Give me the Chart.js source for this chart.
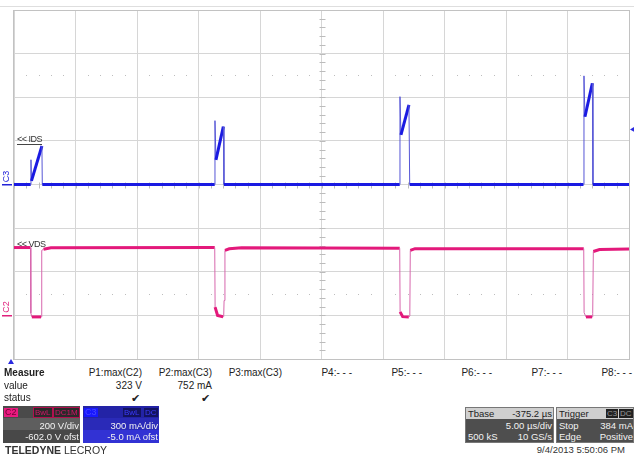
<!DOCTYPE html>
<html lang="en">
<head>
<meta charset="UTF-8">
<title>Scope capture - VDS / IDS</title>
<script src="https://cdn.jsdelivr.net/npm/chart.js@4.4.1/dist/chart.umd.min.js"></script>
<style>
    body { margin:0; width:634px; height:458px; background:#fff; position:relative; overflow:hidden;
           font-family:"Liberation Sans", Arial, sans-serif; }
    #scope { position:absolute; left:0; top:0; }
    .t { position:absolute; white-space:nowrap; font-size:10px; line-height:12px; color:#222; }
    .r { text-align:right; }
    .box { position:absolute; font-size:9.5px; line-height:11px; color:#f2f2f2; overflow:hidden; }
    .row { position:absolute; left:0; right:0; height:11px; }
    .row span { position:absolute; }
    .tag { position:absolute; top:2px; height:9px; line-height:9px; font-size:8px; padding:0 1px; }
    .mark { position:absolute; font-size:9px; line-height:10px; color:#333; border-bottom:1px solid #444; letter-spacing:-0.5px; }
</style>
</head>
<body>
<div style="position:absolute;left:0;top:6px;width:634px;height:1px;background:#dedede;"></div>
<canvas id="scope" width="634" height="362"></canvas>

<div class="mark" style="left:17px;top:134px;">&lt;&lt; IDS</div>
<div class="mark" style="left:17px;top:239px;border-bottom:none;">&lt;&lt; VDS</div>
<div style="position:absolute;left:8px;top:359px;width:0;height:0;border-left:3px solid transparent;border-right:3px solid transparent;border-bottom:5px solid #2a2ae0;"></div>

<div id="measure"></div>

<!-- channel C2 -->
<div class="box" style="left:3px;top:406px;width:77px;height:37px;background:linear-gradient(#4a4a4a 0 12px,#5e5e5e 12px 24px,#484848 24px);">
    <div class="tag" style="left:1px;width:12px;background:#ea1a80;color:#6d0434;font-size:9px;">C2</div>
    <div class="tag" style="left:30px;background:#2a2a2a;color:#d01466;border:1px solid #b0104f;top:1px;">BwL</div>
    <div class="tag" style="left:50px;background:#2a2a2a;color:#d01466;border:1px solid #b0104f;top:1px;">DC1M</div>
    <div class="row" style="top:14px;"><span style="right:1px;">200 V/div</span></div>
    <div class="row" style="top:25px;"><span style="right:1px;">-602.0 V ofst</span></div>
</div>
<!-- channel C3 -->
<div class="box" style="left:83px;top:406px;width:76px;height:37px;background:linear-gradient(#2323a6 0 12px,#2a2ab8 12px 24px,#3232d4 24px);">
    <div class="tag" style="left:1px;width:12px;background:#1818ff;color:#4848ff;font-size:9px;">C3</div>
    <div class="tag" style="left:40px;background:#131360;color:#3a3aff;">BwL</div>
    <div class="tag" style="left:61px;background:#131360;color:#3a3aff;">DC</div>
    <div class="row" style="top:14px;"><span style="right:1px;">300 mA/div</span></div>
    <div class="row" style="top:25px;"><span style="right:1px;">-5.0 mA ofst</span></div>
</div>
<!-- timebase -->
<div class="box" style="left:465px;top:407px;width:89px;height:36px;background:#4e4e4e;border:1px solid #777;box-sizing:border-box;">
    <div class="row" style="top:0;background:#cfcfcf;color:#222;"><span style="left:2px;">Tbase</span><span style="right:1px;">-375.2 &micro;s</span></div>
    <div class="row" style="top:12px;"><span style="right:1px;">5.00 &micro;s/div</span></div>
    <div class="row" style="top:23px;"><span style="left:2px;">500 kS</span><span style="right:1px;">10 GS/s</span></div>
</div>
<!-- trigger -->
<div class="box" style="left:556px;top:407px;width:78px;height:36px;background:#4e4e4e;border:1px solid #777;box-sizing:border-box;">
    <div class="row" style="top:0;background:#cfcfcf;color:#222;"><span style="left:2px;">Trigger</span></div>
    <div class="tag" style="left:49px;top:1px;background:#202020;color:#999;">C3</div>
    <div class="tag" style="left:62px;top:1px;background:#202020;color:#999;">DC</div>
    <div class="row" style="top:12px;"><span style="left:2px;">Stop</span><span style="right:0;">384 mA</span></div>
    <div class="row" style="top:23px;"><span style="left:2px;">Edge</span><span style="right:0;">Positive</span></div>
</div>

<div class="t" style="left:5px;top:444px;font-size:10.5px;color:#333;"><b>TELEDYNE</b> LECROY</div>
<div class="t r" style="right:9px;top:444px;font-size:9.5px;color:#333;">9/4/2013 5:50:06 PM</div>

<script>
// time axis: 10 divisions of 5 us
const TIME_PER_DIV = 5;
const X_DIVS = 10;
const Y_DIVS = 8;

// C3 (IDS): 300 mA/div, -5.0 mA offset
const C3_SCALE = 300;
const C3_OFST = -5;
const C3_T  = [0, 1.36, 1.38, 1.42, 2.27, 2.30, 16.32, 16.34, 16.42, 17.02, 17.07, 31.36, 31.38, 31.46, 32.11, 32.17, 46.30, 46.34, 46.42, 47.02, 47.07, 50];
const C3_MA = [5, 5, 175, 30, 270, 5, 5, 444, 174, 403, 5, 5, 609, 346, 552, 5, 5, 752, 471, 701, 5, 5];

// C2 (VDS): 200 V/div, -602.0 V offset
const C2_SCALE = 200;
const C2_OFST = -602;
const C2_T = [0, 1.34, 1.37, 1.45, 2.20, 2.24, 2.27, 2.40, 3.0,
              16.32, 16.35, 16.55, 17.00, 17.05, 17.08, 17.15, 17.50, 18.50,
              31.36, 31.39, 31.60, 32.10, 32.18, 32.22, 32.60,
              46.32, 46.35, 46.50, 47.00, 47.05, 47.10, 47.60, 50];
const C2_V = [313, 313, 12, -5, -5, 0, 300, 305, 312,
              313, 40, 2, -4, 0, 70, 300, 307, 312,
              310, 18, -4, -6, 0, 300, 308,
              308, 15, -5, -5, 10, 295, 304, 306];

// dotted reference levels (divisions) and trigger level
const REF_DIVS = [2.5, -2.5];
const TRIG_MA = 384;

const MEASURE_LABELS = ['P1:max(C2)', 'P2:max(C3)', 'P3:max(C3)', 'P4:- - -', 'P5:- - -', 'P6:- - -', 'P7:- - -', 'P8:- - -'];
const MEASURE_VALUES = ['323 V', '752 mA', '', '', '', '', '', ''];
const MEASURE_STATUS = [true, true, false, false, false, false, false, false];

// measure table
(function () {
    const host = document.getElementById('measure');
    let html = '<div class="t" style="left:4px;top:367px;"><b>Measure</b></div>' +
               '<div class="t" style="left:4px;top:380px;">value</div>' +
               '<div class="t" style="left:4px;top:392px;">status</div>';
    for (let i = 0; i < MEASURE_LABELS.length; i++) {
        const right = 634 - (142 + 70 * i);
        html += `<div class="t r" style="right:${right}px;top:367px;">${MEASURE_LABELS[i]}</div>`;
        if (MEASURE_VALUES[i]) html += `<div class="t r" style="right:${right}px;top:380px;">${MEASURE_VALUES[i]}</div>`;
        if (MEASURE_STATUS[i]) html += `<div class="t r" style="right:${right + 2}px;top:392px;font-size:11px;">&#10004;</div>`;
    }
    host.innerHTML = html;
})();

function pts(xs, ys) {
    return xs.map((x, i) => ({x: x, y: ys[i]}));
}

function edgeSegment(thin) {
    // fast edges come out thin and pale on the scope
    const steep = ctx => Math.abs(ctx.p1.x - ctx.p0.x) < 2;
    return {
        borderWidth: ctx => steep(ctx) ? 1 : undefined,
        borderColor: ctx => steep(ctx) ? thin : undefined
    };
}

const scopeDecor = {
    id: 'scopeDecor',
    beforeDatasetsDraw(chart) {
        const {ctx, chartArea: a, scales} = chart;
        const sx = scales.x, sd = scales.div;
        const cx = Math.round(sx.getPixelForValue(X_DIVS * TIME_PER_DIV / 2)) + 0.5;
        const cy = Math.round(sd.getPixelForValue(0)) + 0.5;
        ctx.save();
        // dotted reference lines
        ctx.fillStyle = '#bdbdbd';
        REF_DIVS.forEach(d => {
            const y = Math.round(sd.getPixelForValue(d));
            for (let t = 1; t < X_DIVS * TIME_PER_DIV; t++) {
                if (t % TIME_PER_DIV === 0) continue;
                ctx.fillRect(Math.round(sx.getPixelForValue(t)), y, 1, 1);
            }
        });
        // centre cross ticks
        ctx.strokeStyle = '#bcbcbc';
        ctx.lineWidth = 1;
        ctx.beginPath();
        for (let k = -Y_DIVS * 5 / 2; k <= Y_DIVS * 5 / 2; k++) {
            const y = Math.round(sd.getPixelForValue(k / 5)) + 0.5;
            ctx.moveTo(cx - 3, y); ctx.lineTo(cx + 3, y);
        }
        for (let t = 0; t <= X_DIVS * TIME_PER_DIV; t++) {
            const x = Math.round(sx.getPixelForValue(t)) + 0.5;
            ctx.moveTo(x, cy - 3); ctx.lineTo(x, cy + 3);
        }
        ctx.stroke();
        // frame
        ctx.strokeStyle = '#c2c2c2';
        ctx.strokeRect(Math.round(a.left) - 0.5, Math.round(a.top) + 0.5, Math.round(a.right - a.left) + 1, Math.round(a.bottom - a.top));
        ctx.restore();
    },
    afterDatasetsDraw(chart) {
        const {ctx, chartArea: a, scales} = chart;
        ctx.save();
        // trigger level arrow
        const ty = scales.yI.getPixelForValue(TRIG_MA);
        ctx.fillStyle = '#2a2ae0';
        ctx.beginPath();
        ctx.moveTo(a.right + 1, ty); ctx.lineTo(a.right + 6, ty - 3); ctx.lineTo(a.right + 6, ty + 3);
        ctx.fill();
        // channel ground markers
        [['C3', scales.yI.getPixelForValue(0), '#2323d8'], ['C2', scales.yV.getPixelForValue(0), '#e0207c']].forEach(m => {
            ctx.fillStyle = m[2];
            ctx.fillRect(2, Math.round(m[1]) - 1, 10, 1.5);
            ctx.save();
            ctx.translate(11, m[1] - 3);
            ctx.rotate(-Math.PI / 2);
            ctx.font = '9px "Liberation Sans", Arial';
            ctx.textBaseline = 'bottom';
            ctx.fillText(m[0], 0, 0);
            ctx.restore();
        });
        ctx.restore();
    }
};

const gridAxis = (min, max, step, pos) => ({
    type: 'linear', position: pos, min: min, max: max,
    ticks: {display: false, stepSize: step},
    grid: {color: '#d6d6d6', drawTicks: false, lineWidth: 1},
    border: {display: false},
    afterFit: s => { s.width = 0; s.height = 0; }
});

new Chart(document.getElementById('scope').getContext('2d'), {
    type: 'line',
    data: {
        datasets: [
            {
                label: 'C3 IDS',
                data: pts(C3_T, C3_MA),
                yAxisID: 'yI',
                borderColor: '#1a1ae2',
                borderWidth: 3,
                pointRadius: 0,
                tension: 0,
                segment: edgeSegment('#5656d6')
            },
            {
                label: 'C2 VDS',
                data: pts(C2_T, C2_V),
                yAxisID: 'yV',
                borderColor: '#e3197b',
                borderWidth: 3,
                pointRadius: 0,
                tension: 0,
                segment: edgeSegment('#d767ad')
            }
        ]
    },
    options: {
        responsive: false,
        animation: false,
        devicePixelRatio: 1,
        layout: {padding: {left: 14, top: 10, right: 5, bottom: 3}},
        plugins: {legend: {display: false}, tooltip: {enabled: false}},
        scales: {
            x: gridAxis(0, X_DIVS * TIME_PER_DIV, TIME_PER_DIV, 'bottom'),
            div: gridAxis(-Y_DIVS / 2, Y_DIVS / 2, 1, 'left'),
            yI: {type: 'linear', display: false,
                 min: -C3_OFST - C3_SCALE * Y_DIVS / 2, max: -C3_OFST + C3_SCALE * Y_DIVS / 2},
            yV: {type: 'linear', display: false,
                 min: -C2_OFST - C2_SCALE * Y_DIVS / 2, max: -C2_OFST + C2_SCALE * Y_DIVS / 2}
        }
    },
    plugins: [scopeDecor]
});
</script>
</body>
</html>
